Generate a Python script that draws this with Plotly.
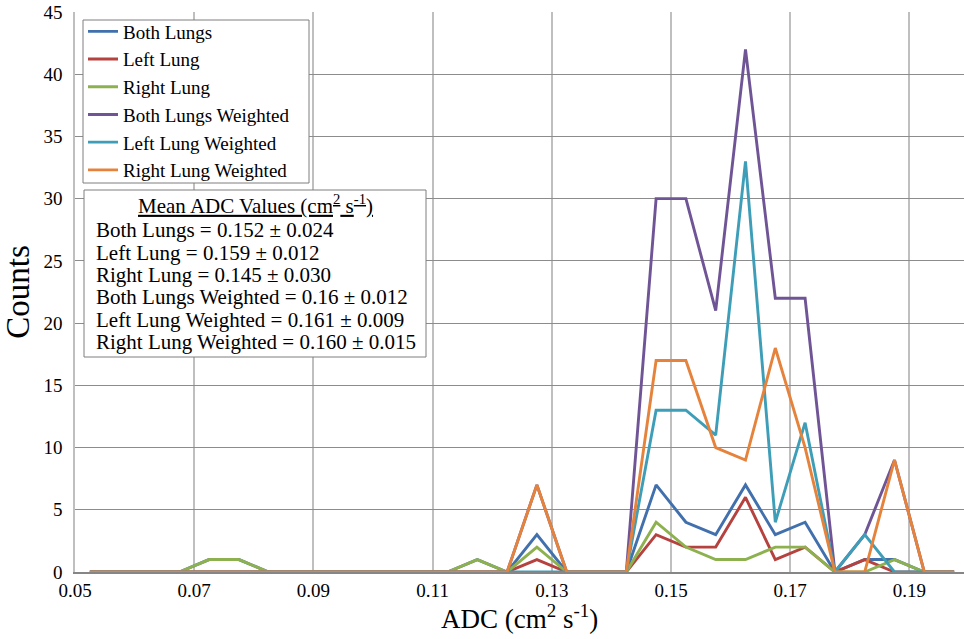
import plotly.graph_objects as go

# ---- data ----
adc_bins = [0.0525, 0.0575, 0.0625, 0.0675, 0.0725, 0.0775, 0.0825, 0.0875, 0.0925, 0.0975,
            0.1025, 0.1075, 0.1125, 0.1175, 0.1225, 0.1275, 0.1325, 0.1375, 0.1425, 0.1475,
            0.1525, 0.1575, 0.1625, 0.1675, 0.1725, 0.1775, 0.1825, 0.1875, 0.1925, 0.1975]

both_lungs = [0, 0, 0, 0, 1, 1, 0, 0, 0, 0, 0, 0, 0, 1, 0, 3, 0, 0, 0, 7,
              4, 3, 7, 3, 4, 0, 1, 1, 0, 0]
left_lung = [0, 0, 0, 0, 0, 0, 0, 0, 0, 0, 0, 0, 0, 0, 0, 1, 0, 0, 0, 3,
             2, 2, 6, 1, 2, 0, 1, 0, 0, 0]
right_lung = [0, 0, 0, 0, 1, 1, 0, 0, 0, 0, 0, 0, 0, 1, 0, 2, 0, 0, 0, 4,
              2, 1, 1, 2, 2, 0, 0, 1, 0, 0]
both_lungs_w = [0, 0, 0, 0, 0, 0, 0, 0, 0, 0, 0, 0, 0, 0, 0, 7, 0, 0, 0, 30,
                30, 21, 42, 22, 22, 0, 3, 9, 0, 0]
left_lung_w = [0, 0, 0, 0, 0, 0, 0, 0, 0, 0, 0, 0, 0, 0, 0, 0, 0, 0, 0, 13,
               13, 11, 33, 4, 12, 0, 3, 0, 0, 0]
right_lung_w = [0, 0, 0, 0, 0, 0, 0, 0, 0, 0, 0, 0, 0, 0, 0, 7, 0, 0, 0, 17,
                17, 10, 9, 18, 10, 0, 0, 9, 0, 0]

series_names = ["Both Lungs", "Left Lung", "Right Lung",
                "Both Lungs Weighted", "Left Lung Weighted", "Right Lung Weighted"]
series_values = [both_lungs, left_lung, right_lung, both_lungs_w, left_lung_w, right_lung_w]
series_colors = ["#4170AD", "#B5423F", "#8EB14F", "#705596", "#3E9EB8", "#E5833C"]

stat_means = ["0.152", "0.159", "0.145", "0.16", "0.161", "0.160"]
stat_sds = ["0.024", "0.012", "0.030", "0.012", "0.009", "0.015"]

x_ticks = [0.05, 0.07, 0.09, 0.11, 0.13, 0.15, 0.17, 0.19]
y_ticks = list(range(0, 50, 5))

FONT = '"Liberation Serif", "Times New Roman", serif'

fig = go.Figure()
for name, vals, col in zip(series_names, series_values, series_colors):
    fig.add_trace(go.Scatter(x=adc_bins, y=vals, mode="lines", name=name,
                             line=dict(color=col, width=2.9)))

# plot-area geometry (pixels)
W, H = 964, 639
L, R, T, B = 75, 0, 12, 67
PW, PH = W - L - R, H - T - B


def px(xp):
    return (xp - L) / PW


def py(yp):
    return (H - B - yp) / PH


# legend frame
fig.add_shape(type="rect", xref="paper", yref="paper",
              x0=px(83), x1=px(309), y0=py(183), y1=py(20),
              line=dict(color="#7f7f7f", width=1), fillcolor="white", layer="above")

# stats box
fig.add_shape(type="rect", xref="paper", yref="paper",
              x0=px(84), x1=px(426), y0=py(357), y1=py(190),
              line=dict(color="#7f7f7f", width=1), fillcolor="white", layer="above")
fig.add_annotation(xref="paper", yref="paper", x=px(255), y=py(204),
                   text="<u>Mean ADC Values (cm<sup>2</sup> s<sup>-1</sup>)</u>",
                   showarrow=False, xanchor="center", yanchor="middle",
                   font=dict(family=FONT, size=21, color="black"))
for i, (name, m, s) in enumerate(zip(series_names, stat_means, stat_sds)):
    fig.add_annotation(xref="paper", yref="paper", x=px(94), y=py(230.5 + 22.3 * i),
                       text=f"{name} = {m} ± {s}",
                       showarrow=False, xanchor="left", yanchor="middle",
                       font=dict(family=FONT, size=21, color="black"))

# x-axis title
fig.add_annotation(xref="paper", yref="paper", x=0.5, y=py(617),
                   text="ADC (cm<sup>2</sup> s<sup>-1</sup>)",
                   showarrow=False, xanchor="center", yanchor="middle",
                   font=dict(family=FONT, size=27, color="black"))

fig.update_layout(
    width=W, height=H,
    margin=dict(l=L, r=R, t=T, b=B, pad=0),
    plot_bgcolor="white", paper_bgcolor="white",
    font=dict(family=FONT, size=19, color="black"),
    showlegend=True,
    legend=dict(x=px(83), y=py(12.5), xanchor="left", yanchor="top",
                bgcolor="rgba(0,0,0,0)", borderwidth=0,
                font=dict(family=FONT, size=19, color="black"),
                itemwidth=30, tracegroupgap=0),
    xaxis=dict(range=[0.05, 0.05 + PW / 5960.0], tickvals=x_ticks,
               ticktext=[f"{v:.2f}" for v in x_ticks],
               showgrid=True, gridcolor="#bfbfbf", gridwidth=1.5,
               showline=True, linecolor="#868686", linewidth=1.5,
               zeroline=False, ticks="", ticklabelstandoff=0,
               tickfont=dict(family=FONT, size=19, color="black")),
    yaxis=dict(range=[0, 45], tickvals=y_ticks,
               showgrid=True, gridcolor="#8c8c8c", gridwidth=1.2,
               showline=True, linecolor="#bfbfbf", linewidth=1.5,
               zeroline=False, ticks="", ticklabelstandoff=7,
               tickfont=dict(family=FONT, size=19, color="black"),
               title=dict(text="Counts", font=dict(family=FONT, size=33, color="black"),
                          standoff=6)),
)

fig.write_html("out.html")
